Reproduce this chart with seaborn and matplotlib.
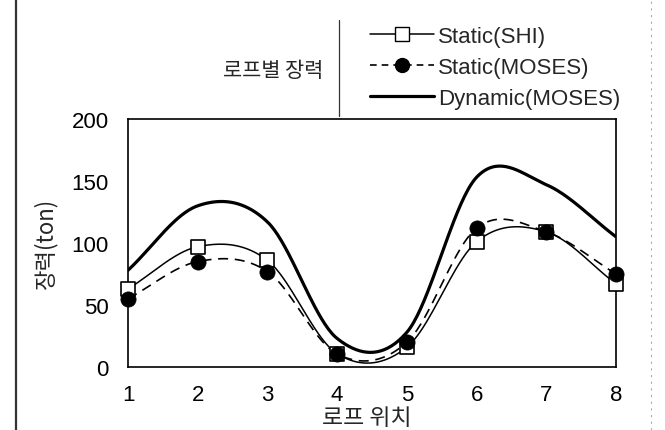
import numpy as np
import pandas as pd
import matplotlib
matplotlib.use("Agg")
import matplotlib.pyplot as plt
import seaborn as sns
from matplotlib.lines import Line2D

# ---- data ----
positions = [1, 2, 3, 4, 5, 6, 7, 8]
static_shi = [63, 97, 86, 10.7, 16, 101, 109, 67]
static_moses = [55, 85, 77, 10.5, 20, 112, 109, 75]
dynamic_moses = [78, 130, 117, 23, 28, 153, 147, 105]
series_names = ["Static(SHI)", "Static(MOSES)", "Dynamic(MOSES)"]
y_ticks = [0, 50, 100, 150, 200]
title_text = "로프별 장력"
x_label = "로프 위치"
y_label = "장력(ton)"


def smooth(x, y, n=40):
    """Catmull-Rom style smoothing (like a spreadsheet 'smoothed line')."""
    x = np.asarray(x, float)
    y = np.asarray(y, float)
    m = np.empty_like(y)
    m[1:-1] = (y[2:] - y[:-2]) / 2.0
    m[0] = y[1] - y[0]
    m[-1] = y[-1] - y[-2]
    xs, ys = [], []
    for i in range(len(x) - 1):
        t = np.linspace(0, 1, n, endpoint=(i == len(x) - 2))
        h00 = 2 * t**3 - 3 * t**2 + 1
        h10 = t**3 - 2 * t**2 + t
        h01 = -2 * t**3 + 3 * t**2
        h11 = t**3 - t**2
        xs.append(x[i] + t * (x[i + 1] - x[i]))
        ys.append(h00 * y[i] + h10 * m[i] + h01 * y[i + 1] + h11 * m[i + 1])
    return np.concatenate(xs), np.concatenate(ys)


sns.set_theme(style="white")
plt.rcParams["font.family"] = ["Liberation Sans", "Noto Sans CJK KR", "DejaVu Sans"]

fig = plt.figure(figsize=(6.65, 4.31), dpi=100)
ax = fig.add_axes([128 / 665, 1 - 368 / 431, 488 / 665, 248 / 431])

styles = {
    "Static(SHI)": dict(lw=1.1, ls="-"),
    "Static(MOSES)": dict(lw=1.2, ls=(0, (6, 4))),
    "Dynamic(MOSES)": dict(lw=2.3, ls="-"),
}
data = {"Static(SHI)": static_shi, "Static(MOSES)": static_moses,
        "Dynamic(MOSES)": dynamic_moses}

for name in series_names:
    xs, ys = smooth(positions, data[name])
    df = pd.DataFrame({"x": xs, "y": ys})
    sns.lineplot(data=df, x="x", y="y", ax=ax, color="black", sort=False,
                 estimator=None, legend=False, linewidth=styles[name]["lw"],
                 linestyle=styles[name]["ls"], zorder=2)

sns.scatterplot(x=positions, y=static_shi, ax=ax, marker="s", s=110,
                facecolor="white", edgecolor="black", linewidth=1.2,
                zorder=4, legend=False, clip_on=False)
sns.scatterplot(x=positions, y=static_moses, ax=ax, marker="o", s=120,
                color="black", edgecolor="black", linewidth=0.5,
                zorder=5, legend=False, clip_on=False)

ax.set_xlim(1, 8)
ax.set_ylim(0, 200)
ax.set_xticks(positions)
ax.set_xticklabels([str(p) for p in positions])
ax.set_yticks(y_ticks)
ax.set_yticklabels([str(v) for v in y_ticks])
ax.tick_params(axis="x", direction="in", length=4, width=0.8, pad=12,
               labelsize=16, colors="black")
ax.tick_params(axis="y", length=0, pad=14, labelsize=16, colors="black")
for sp in ax.spines.values():
    sp.set_visible(True)
    sp.set_color("black")
    sp.set_linewidth(1.2)

ax.set_xlabel(x_label, fontsize=16.5, family=["Noto Sans CJK KR"], va="center")
ax.xaxis.set_label_coords(0.49, -0.205)
ax.set_ylabel(y_label, fontsize=16, family=["Noto Sans CJK KR"], va="center")
ax.yaxis.set_label_coords(-0.17, 0.504)

handles = [
    Line2D([], [], color="black", lw=1.1, marker="s", markersize=10,
           markerfacecolor="white", markeredgecolor="black"),
    Line2D([], [], color="black", lw=1.2, ls=(0, (4, 3)), marker="o",
           markersize=10, markerfacecolor="black"),
    Line2D([], [], color="black", lw=2.3),
]
fig.legend(handles, series_names, loc="upper left",
           bbox_to_anchor=(370 / 665, 1 - 27 / 431), frameon=False,
           fontsize=16, handlelength=2.9, handletextpad=0.15,
           labelspacing=0.45, borderpad=0, borderaxespad=0)

fig.text(273 / 665, 1 - 71 / 431, title_text, fontsize=15,
         family=["Noto Sans CJK KR"], ha="center", va="center")

# page border / separator lines from the original layout
fig.add_artist(Line2D([16 / 665, 16 / 665], [0, 1], color="#333333", lw=1.6,
                      transform=fig.transFigure))
fig.add_artist(Line2D([339 / 665, 339 / 665], [1 - 21 / 431, 1 - 117 / 431],
                      color="#333333", lw=0.9, transform=fig.transFigure))
fig.add_artist(Line2D([651 / 665, 651 / 665], [0, 1], color="#aaaaaa", lw=0.8,
                      ls=(0, (2, 4)), transform=fig.transFigure))

fig.savefig("out.png", dpi=100)
